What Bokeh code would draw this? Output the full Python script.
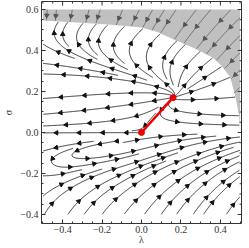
import numpy as np
from bokeh.plotting import figure
from bokeh.models import Range1d, FixedTicker
from bokeh.embed import file_html
from bokeh.resources import INLINE

# ---------------- data ----------------
# boundary of the shaded (excluded) region: sigma as a function of lambda
boundary_lam = [-0.50, -0.35, -0.17, 0.00, 0.08, 0.16, 0.26, 0.36, 0.405, 0.45, 0.478, 0.495, 0.50]
boundary_sig = [0.546, 0.538, 0.527, 0.512, 0.49, 0.455, 0.415, 0.366, 0.327, 0.27, 0.166, 0.08, 0.0]
# critical points joined by the red segment
fp_lam = [0.0, 0.16]
fp_sig = [0.0, 0.17]
# plotted domain of the stream plot
domain_lam = [-0.5, 0.5]
domain_sig = [-0.4, 0.6]
# ticks
x_ticks = [-0.4, -0.2, 0.0, 0.2, 0.4]
x_tick_labels = ["\u22120.4", "\u22120.2", "0.0", "0.2", "0.4"]
y_ticks = [-0.4, -0.2, 0.0, 0.2, 0.4, 0.6]
y_tick_labels = ["\u22120.4", "\u22120.2", "0.0", "0.2", "0.4", "0.6"]
x_minor = [-0.5, -0.45, -0.35, -0.3, -0.25, -0.15, -0.1, -0.05, 0.05, 0.1, 0.15, 0.25, 0.3, 0.35, 0.45, 0.5]
y_minor = [-0.35, -0.3, -0.25, -0.15, -0.1, -0.05, 0.05, 0.1, 0.15, 0.25, 0.3, 0.35, 0.45, 0.5, 0.55]

# qualitative flow model (sigma = 0 is invariant; the two half planes use their own nullclines)
up_beta, up_m, up_c = 3.0, -0.15, 12.0
# lower half: lambda-nullcline lambda = g(sigma), sigma-nullcline sigma = s(lambda)
low_beta = 5.5
g_sig = [-0.6, -0.45, -0.3, -0.15, -0.06, 0.0]
g_lam = [-0.85, -0.76, -0.68, -0.49, -0.17, 0.0]
s_lam = [-0.6, -0.45, -0.13, 0.16, 0.6]
s_sig = [-0.24, -0.2, -0.05, 0.17, 0.5]

LP, SP = fp_lam[1], fp_sig[1]
KAPPA = LP / SP

# axis ranges (plot frame incl. padding)
X0, X1 = -0.507, 0.507
Y0, Y1 = -0.444, 0.639
FRAME_W, FRAME_H = 208.0, 222.0


def sig_boundary(l):
    return np.interp(l, boundary_lam, boundary_sig)


def in_box(l, s):
    return domain_lam[0] <= l <= domain_lam[1] and domain_sig[0] <= s <= domain_sig[1]


def in_white(l, s):
    return in_box(l, s) and s < sig_boundary(l)


def in_gray(l, s):
    return in_box(l, s) and s > sig_boundary(l)


def flow_white(l, s):
    if s >= 0:
        dl = l - KAPPA * s + up_c * s * s * (s - SP)
        ds = up_beta * s * (s - (SP + up_m * (l - LP)))
    else:
        dl = l - np.interp(s, g_sig, g_lam)
        ds = low_beta * s * (s - np.interp(l, s_lam, s_sig))
    return dl, ds


def flow_gray(l, s):
    return -(l + 0.55), -1.0


def streamlines(fun, inside, dsep, dtest, h, maxsteps, sinks):
    cell = dsep
    grid = {}

    def key(x, y):
        return (int(np.floor((x + 2) / cell)), int(np.floor((y + 2) / cell)))

    def too_close(x, y, d):
        i, j = key(x, y)
        d2 = d * d
        for di in (-1, 0, 1):
            for dj in (-1, 0, 1):
                for (px, py) in grid.get((i + di, j + dj), ()):
                    if (px - x) ** 2 + (py - y) ** 2 < d2:
                        return True
        return False

    def near_sink(x, y, r):
        for (fx, fy) in sinks:
            if (fx - x) ** 2 + (fy - y) ** 2 < r * r:
                return True
        return False

    def direction(x, y):
        a, b = fun(x, y)
        n = np.hypot(a, b)
        if n < 1e-9:
            return None
        return a / n, b / n

    def integrate(x0, y0, sign, own):
        pts = []
        x, y = x0, y0
        for k in range(maxsteps):
            d1 = direction(x, y)
            if d1 is None:
                break
            xm, ym = x + 0.5 * h * sign * d1[0], y + 0.5 * h * sign * d1[1]
            d2 = direction(xm, ym)
            if d2 is None:
                break
            xn, yn = x + h * sign * d2[0], y + h * sign * d2[1]
            if not inside(xn, yn):
                break
            if near_sink(xn, yn, 0.006):
                pts.append((xn, yn))
                break
            if (not near_sink(xn, yn, 0.05)) and too_close(xn, yn, dtest):
                break
            if k > 40:
                arr = np.array(own + pts[:-30]) if (own or len(pts) > 30) else None
                if arr is not None and len(arr) and np.min((arr[:, 0] - xn) ** 2 + (arr[:, 1] - yn) ** 2) < dtest ** 2:
                    break
            pts.append((xn, yn))
            x, y = xn, yn
        return pts

    xs0 = np.arange(domain_lam[0] + dsep / 2, domain_lam[1], dsep)
    ys0 = np.arange(domain_sig[0] + dsep / 2, domain_sig[1], dsep)
    seeds = [(x, y) for y in ys0 for x in xs0]
    n = len(seeds)
    order = [(k * 37) % n for k in range(n)]
    lines = []
    for k in order:
        x0, y0 = seeds[k]
        if not inside(x0, y0) or too_close(x0, y0, dsep) or near_sink(x0, y0, 0.03):
            continue
        back = integrate(x0, y0, -1, [])
        fwd = integrate(x0, y0, 1, back)
        pts = back[::-1] + [(x0, y0)] + fwd
        if len(pts) < 8:
            continue
        for (px, py) in pts:
            if not near_sink(px, py, 0.05):
                grid.setdefault(key(px, py), []).append((px, py))
        lines.append(np.array(pts))
    return lines


def arrows_for(lines, spacing):
    ax, ay, ang = [], [], []
    for ln in lines:
        seg = np.hypot(np.diff(ln[:, 0]), np.diff(ln[:, 1]))
        cum = np.concatenate([[0], np.cumsum(seg)])
        L = cum[-1]
        if L < 0.04:
            continue
        if L < 1.5 * spacing:
            pos = [L / 2]
        else:
            start = (L - spacing * np.floor(L / spacing)) / 2 + spacing / 2
            pos = list(np.arange(start, L - 0.01, spacing))
        for s in pos:
            i = int(np.searchsorted(cum, s))
            i = min(max(i, 1), len(ln) - 1)
            dx, dy = ln[i] - ln[i - 1]
            ax.append(ln[i][0])
            ay.append(ln[i][1])
            ang.append(np.arctan2(dy, dx) - np.pi / 2)
    return ax, ay, ang


white_lines = streamlines(flow_white, in_white, 0.042, 0.019, 0.004, 900,
                          list(zip(fp_lam, fp_sig)))
gray_lines = streamlines(flow_gray, in_gray, 0.042, 0.019, 0.004, 900, [])

font = "Liberation Serif"
p = figure(width=249, height=248, output_backend="svg", toolbar_location=None,
           x_range=Range1d(X0, X1), y_range=Range1d(Y0, Y1),
           min_border_left=33, min_border_right=8, min_border_top=1, min_border_bottom=25)
p.background_fill_color = "white"
p.border_fill_color = "white"
p.outline_line_color = "#333333"
p.xgrid.visible = False
p.ygrid.visible = False

# shaded excluded region
bl = list(boundary_lam)
bs = list(boundary_sig)
p.patch(bl + [domain_lam[1], domain_lam[0]], bs + [domain_sig[1], domain_sig[1]],
        fill_color="#c0c0c0", line_color=None)

p.multi_line([ln[:, 0] for ln in gray_lines], [ln[:, 1] for ln in gray_lines],
             line_color="#555555", line_width=0.8)
p.multi_line([ln[:, 0] for ln in white_lines], [ln[:, 1] for ln in white_lines],
             line_color="#222222", line_width=0.9)

gx, gy, ga = arrows_for(gray_lines, 0.12)
p.scatter(gx, gy, marker="triangle", size=4.5, angle=ga, fill_color="#555555",
          line_color="#555555")
wx, wy, wa = arrows_for(white_lines, 0.12)
p.scatter(wx, wy, marker="triangle", size=4.5, angle=wa, fill_color="#111111",
          line_color="#111111")

p.line(fp_lam, fp_sig, line_color="#ee0000", line_width=2.5)
p.scatter(fp_lam, fp_sig, size=6, fill_color="#ee0000", line_color="#ee0000")

# inward frame ticks on the top and right edges (from the tick arrays)
px_x = FRAME_W / (X1 - X0)
px_y = FRAME_H / (Y1 - Y0)
p.segment(x_ticks, [Y1] * len(x_ticks), x_ticks, [Y1 - 4 / px_y] * len(x_ticks),
          line_color="#333333", line_width=1)
p.segment(x_minor, [Y1] * len(x_minor), x_minor, [Y1 - 2 / px_y] * len(x_minor),
          line_color="#333333", line_width=1)
p.segment([X1] * len(y_ticks), y_ticks, [X1 - 4 / px_x] * len(y_ticks), y_ticks,
          line_color="#333333", line_width=1)
p.segment([X1] * len(y_minor), y_minor, [X1 - 2 / px_x] * len(y_minor), y_minor,
          line_color="#333333", line_width=1)


def style(ax, ticker, labels, standoff):
    ax.ticker = ticker
    ax.major_tick_in = 4
    ax.major_tick_out = 0
    ax.minor_tick_in = 2
    ax.minor_tick_out = 0
    ax.axis_line_color = None
    ax.major_tick_line_color = "#333333"
    ax.minor_tick_line_color = "#333333"
    ax.major_label_overrides = {t: l for t, l in labels}
    ax.major_label_text_font = font
    ax.major_label_text_font_size = "10px"
    ax.major_label_text_color = "#333333"
    ax.major_label_standoff = standoff


style(p.xaxis[0], FixedTicker(ticks=x_ticks, minor_ticks=x_minor),
      list(zip(x_ticks, x_tick_labels)), 2)
style(p.yaxis[0], FixedTicker(ticks=y_ticks, minor_ticks=y_minor),
      list(zip(y_ticks, y_tick_labels)), 3)
for ax, lab, so in ((p.xaxis[0], "\u03bb", -2), (p.yaxis[0], "\u03c3", 3)):
    ax.axis_label = lab
    ax.axis_label_text_font = font
    ax.axis_label_text_font_style = "normal"
    ax.axis_label_text_font_size = "10px"
    ax.axis_label_text_color = "#333333"
    ax.axis_label_standoff = so

open("out.html", "w").write(file_html(p, INLINE))
